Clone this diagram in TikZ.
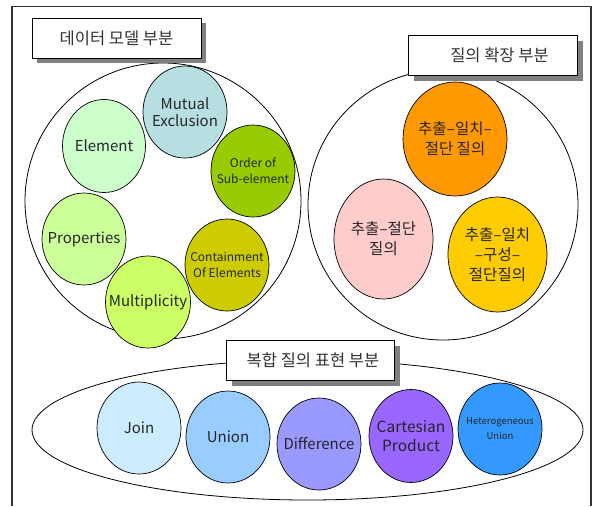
\documentclass[tikz,border=0pt]{standalone}
\usepackage{fontspec}
\setmainfont{Noto Sans CJK KR}
\usetikzlibrary{shapes.geometric}
\begin{document}
\begin{tikzpicture}[x=1pt,y=-1pt,
  group/.style={draw=black,line width=0.8pt,fill=white},
  item/.style={ellipse,draw=black,line width=0.7pt,inner sep=0pt,minimum width=84pt,minimum height=92pt},
  itemtext/.style={text=black!85,align=center,font=\fontsize{15}{17}\selectfont,inner sep=0pt},
  kor/.style={font=\fontsize{15.5}{20}\selectfont},
  labelbox/.style={draw=black,line width=0.8pt,fill=white,minimum height=40pt,inner sep=0pt,font=\fontsize{16.5}{19}\selectfont,text=black!80},
  shadow/.style={fill=black!50,draw=none},
  frame/.style={draw=black!80,line width=1.8pt}]
\useasboundingbox (0,0) rectangle (593,506);
\draw[frame] (12,506) -- (12,6.5) -- (591,6.5) -- (591,506);
% groups
\node[group,circle,minimum size=276pt] (dm) at (163,201) {};
\node[group,circle,minimum size=270pt] (qe) at (443,205) {};
\node[group,ellipse,minimum width=551pt,minimum height=140pt] (cq) at (307.5,430) {};
% data model items
\node[item,fill={rgb,255:red,183;green,222;blue,224}] (me) at (185,112) {};
\node[itemtext] (me-t) at (me) {Mutual\\Exclusion};
\node[item,minimum width=83pt,minimum height=93pt,fill={rgb,255:red,204;green,255;blue,204}] (el) at (104,146) {};
\node[itemtext] (el-t) at (el) {Element};
\node[item,fill={rgb,255:red,153;green,204;blue,0}] (os) at (253,171) {};
\node[itemtext,font=\fontsize{12}{16}\selectfont] (os-t) at (os) {Order of\\Sub-element};
\node[item,fill={rgb,255:red,204;green,255;blue,153}] (pr) at (84,239) {};
\node[itemtext] (pr-t) at (pr) {Properties};
\node[item,fill={rgb,255:red,204;green,204;blue,0}] (ce) at (227,265) {};
\node[itemtext,font=\fontsize{12}{16.5}\selectfont] (ce-t) at (ce) {Containment\\Of Elements};
\node[item,minimum width=85pt,fill={rgb,255:red,204;green,255;blue,102}] (mu) at (148,302) {};
\node[itemtext] (mu-t) at (mu) {Multiplicity};
% query extension items
\node[item,minimum width=104pt,minimum height=114pt,fill={rgb,255:red,255;green,153;blue,0}] (q1) at (455,139) {};
\node[itemtext,kor] (q1-t) at (q1) {추출–일치–\\절단 질의};
\node[item,minimum width=99pt,minimum height=120pt,fill={rgb,255:red,255;green,204;blue,204}] (q2) at (383.5,239) {};
\node[itemtext,kor] (q2-t) at (q2) {추출–절단\\질의};
\node[item,minimum width=99pt,minimum height=115pt,fill={rgb,255:red,255;green,204;blue,0}] (q3) at (497.5,254.5) {};
\node[itemtext,kor] (q3-t) at (q3) {추출–일치\\–구성–\\절단질의};
% composite items
\node[item,fill={rgb,255:red,204;green,236;blue,255}] (jo) at (139,428) {};
\node[itemtext] (jo-t) at (jo) {Join};
\node[item,fill={rgb,255:red,153;green,204;blue,255}] (un) at (228,437) {};
\node[itemtext] (un-t) at (un) {Union};
\node[item,fill={rgb,255:red,153;green,153;blue,255}] (di) at (319,444) {};
\node[itemtext] (di-t) at (di) {Difference};
\node[item,minimum height=93pt,fill={rgb,255:red,153;green,102;blue,255}] (cp) at (411,436) {};
\node[itemtext,font=\fontsize{15.5}{19}\selectfont] (cp-t) at (cp) {Cartesian\\Product};
\node[item,fill={rgb,255:red,51;green,153;blue,255}] (hu) at (500,429) {};
\node[itemtext,font=\fontsize{9.5}{15}\selectfont] (hu-t) at (hu) {Heterogeneous\\Union};
% label boxes with shadows
\fill[shadow] (37,23) rectangle (206,63);
\node[labelbox,minimum width=169pt] (l1) at (116.5,38) {데이터 모델 부분};
\fill[shadow] (414,41) rectangle (583,81);
\node[labelbox,minimum width=169pt] (l2) at (492.5,55) {\hspace*{14pt}질의 확장 부분};
\fill[shadow] (232,346) rectangle (400,386);
\node[labelbox,minimum width=168pt] (l3) at (310,360) {\hspace*{6pt}복합 질의 표현 부분};
\end{tikzpicture}
\end{document}
